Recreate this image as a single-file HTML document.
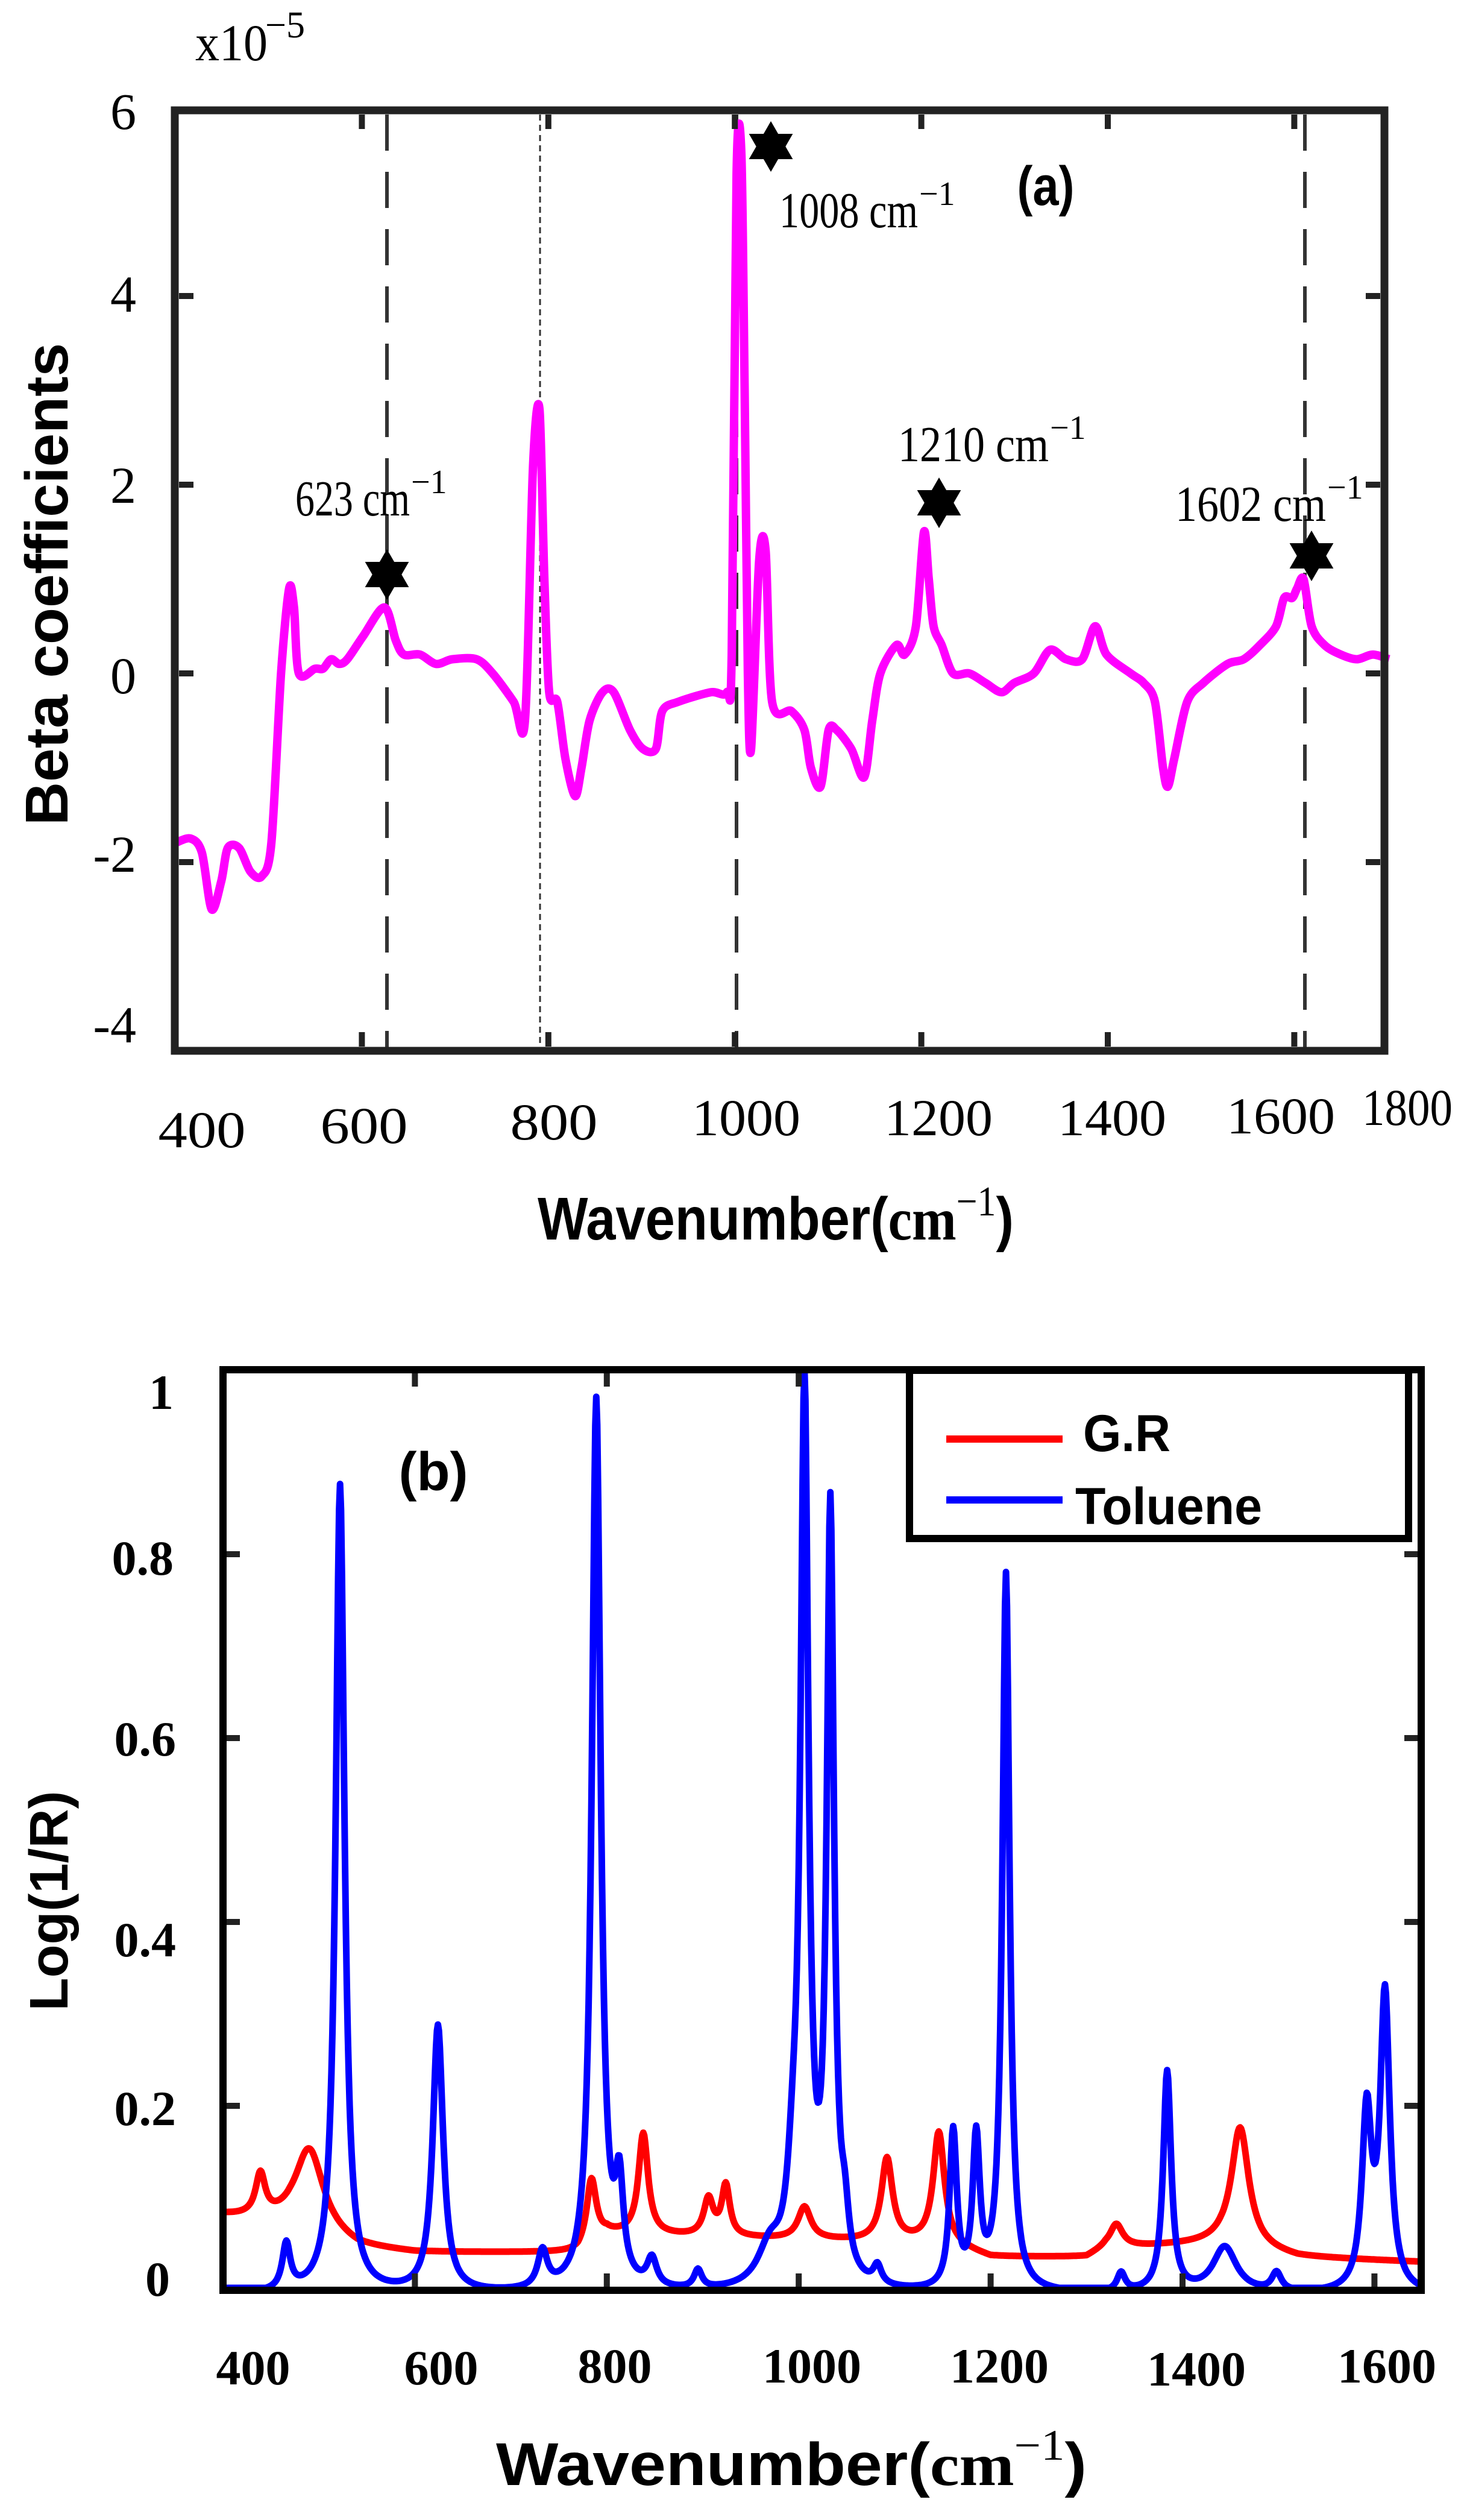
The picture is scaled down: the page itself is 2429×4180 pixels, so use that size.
<!DOCTYPE html>
<html><head><meta charset="utf-8"><style>
html,body{margin:0;padding:0;background:#fff;}
svg{display:block;}
.tk{font-family:"Liberation Serif",serif;}
.sans{font-family:"Liberation Sans",sans-serif;font-weight:bold;}
</style></head><body>
<svg id="s" width="2429" height="4180" viewBox="0 0 2429 4180" xmlns="http://www.w3.org/2000/svg">
<rect width="2429" height="4180" fill="#fff"/>
<g stroke="#333" fill="none">
<line x1="642" y1="190" x2="642" y2="1740" stroke-width="6" stroke-dasharray="60,35"/>
<line x1="896" y1="190" x2="896" y2="1740" stroke-width="3" stroke-dasharray="10,7"/>
<line x1="1222" y1="190" x2="1222" y2="1740" stroke-width="6" stroke-dasharray="60,35"/>
<line x1="2165" y1="190" x2="2165" y2="1740" stroke-width="6" stroke-dasharray="60,35"/>
</g>
<path id="mag" fill="none" stroke="#ff00ff" stroke-width="14" stroke-linejoin="round"/>
<rect x="290" y="183" width="2007" height="1560" fill="none" stroke="#222" stroke-width="13"/>
<g id="ticksA" stroke="#222" stroke-width="10"></g>
<g class="tk" font-size="86" text-anchor="end">
<text x="226" y="214" textLength="40">6</text>
<text x="226" y="517" textLength="40">4</text>
<text x="226" y="834" textLength="40">2</text>
<text x="226" y="1150" textLength="40">0</text>
<text x="226" y="1446">-2</text>
<text x="226" y="1729">-4</text>
</g>
<g class="tk" font-size="86" text-anchor="middle">
<text x="335" y="1903" textLength="145" lengthAdjust="spacingAndGlyphs">400</text>
<text x="604" y="1896" textLength="145" lengthAdjust="spacingAndGlyphs">600</text>
<text x="919" y="1890" textLength="145" lengthAdjust="spacingAndGlyphs">800</text>
<text x="1238" y="1883" textLength="180" lengthAdjust="spacingAndGlyphs">1000</text>
<text x="1557" y="1883" textLength="180" lengthAdjust="spacingAndGlyphs">1200</text>
<text x="1845" y="1883" textLength="180" lengthAdjust="spacingAndGlyphs">1400</text>
<text x="2125" y="1880" textLength="180" lengthAdjust="spacingAndGlyphs">1600</text>
<text x="2335" y="1866" textLength="150" lengthAdjust="spacingAndGlyphs">1800</text>
</g>
<text class="tk" x="324" y="100" font-size="86" textLength="120" lengthAdjust="spacingAndGlyphs">x10</text>
<text class="tk" x="440" y="62" font-size="62">−5</text>
<text class="sans" x="0" y="0" font-size="100" text-anchor="middle" transform="translate(112,969) rotate(-90)">Beta coefficients</text>
<text class="sans" x="1287" y="2056" font-size="100" text-anchor="middle" textLength="790" lengthAdjust="spacingAndGlyphs"><tspan>Wavenumber(</tspan><tspan font-family="Liberation Serif">cm</tspan><tspan font-family="Liberation Serif" font-weight="normal" font-size="70" dy="-40">−1</tspan><tspan dy="40">)</tspan></text>
<g class="tk" font-size="84">
<text x="490" y="855" textLength="190" lengthAdjust="spacingAndGlyphs">623 cm</text><text x="682" y="818" font-size="56">−1</text>
<text x="1293" y="377" textLength="230" lengthAdjust="spacingAndGlyphs">1008 cm</text><text x="1525" y="340" font-size="56">−1</text>
<text x="1490" y="765" textLength="250" lengthAdjust="spacingAndGlyphs">1210 cm</text><text x="1742" y="728" font-size="56">−1</text>
<text x="1950" y="864" textLength="250" lengthAdjust="spacingAndGlyphs">1602 cm</text><text x="2202" y="827" font-size="56">−1</text>
</g>
<text class="sans" x="1735" y="340" font-size="92" text-anchor="middle" textLength="95" lengthAdjust="spacingAndGlyphs">(a)</text>
<g id="stars" fill="#000"></g>

<path id="red" fill="none" stroke="#ff0000" stroke-width="11" stroke-linejoin="round"/>
<path id="blue" fill="none" stroke="#0000ff" stroke-width="11" stroke-linejoin="round"/>
<rect x="370" y="2272" width="1988" height="1527" fill="none" stroke="#000" stroke-width="12"/>
<g id="ticksB" stroke="#222" stroke-width="10"></g>
<rect x="1509" y="2273" width="828" height="279" fill="#fff" stroke="#000" stroke-width="12"/>
<line x1="1570" y1="2387" x2="1763" y2="2387" stroke="#ff0000" stroke-width="12"/>
<line x1="1570" y1="2488" x2="1763" y2="2488" stroke="#0000ff" stroke-width="12"/>
<text class="sans" x="1797" y="2407" font-size="86" textLength="145" lengthAdjust="spacingAndGlyphs">G.R</text>
<text class="sans" x="1784" y="2528" font-size="86" textLength="310" lengthAdjust="spacingAndGlyphs">Toluene</text>
<text class="sans" x="719" y="2472" font-size="90" text-anchor="middle" textLength="115" lengthAdjust="spacingAndGlyphs">(b)</text>
<g class="tk" font-size="82" font-weight="bold" text-anchor="end">
<text x="288" y="2337">1</text>
<text x="288" y="2612">0.8</text>
<text x="292" y="2912">0.6</text>
<text x="292" y="3245">0.4</text>
<text x="292" y="3525">0.2</text>
<text x="282" y="3808">0</text>
</g>
<g class="tk" font-size="82" font-weight="bold" text-anchor="middle">
<text x="420" y="3955">400</text>
<text x="732" y="3955">600</text>
<text x="1020" y="3952">800</text>
<text x="1347" y="3952">1000</text>
<text x="1658" y="3952">1200</text>
<text x="1985" y="3957">1400</text>
<text x="2301" y="3952">1600</text>
</g>
<text class="sans" x="0" y="0" font-size="90" text-anchor="middle" transform="translate(112,3153) rotate(-90)">Log(1/R)</text>
<text class="sans" x="1313" y="4122" font-size="100" text-anchor="middle" textLength="980" lengthAdjust="spacingAndGlyphs"><tspan>Wavenumber(</tspan><tspan font-family="Liberation Serif">cm</tspan><tspan font-family="Liberation Serif" font-weight="normal" font-size="72" dy="-42">−1</tspan><tspan dy="42">)</tspan></text>
</svg>
<script>
(function(){
var NS="http://www.w3.org/2000/svg";
function el(p,n,a){var e=document.createElementNS(NS,n);for(var k in a)e.setAttribute(k,a[k]);p.appendChild(e);return e;}
var A=[[108,-1.8],[118,-1.75],[125,-1.9],[131,-2.5],[137,-2.2],[141,-1.85],[148,-1.85],[155,-2.1],[162,-2.15],[168,-1.8],[174,0],[179,0.9],[182,0.7],[185,0],[195,0.05],[200,0.05],[205,0.15],[210,0.1],[215,0.15],[225,0.4],[238,0.7],[245,0.35],[250,0.2],[260,0.2],[270,0.1],[280,0.15],[295,0.15],[305,0.0],[318,-0.3],[325,-0.5],[330,2.2],[334,2.8],[337,1.0],[340,-0.2],[345,-0.3],[350,-0.9],[356,-1.3],[360,-1.0],[365,-0.5],[373,-0.2],[380,-0.2],[390,-0.6],[398,-0.8],[406,-0.8],[410,-0.4],[420,-0.3],[440,-0.2],[450,-0.2],[453,0.2],[456,5.3],[459,5.5],[461,3.0],[463,0.0],[465,-0.8],[470,1.2],[474,1.3],[478,-0.3],[490,-0.4],[498,-0.6],[502,-1.0],[508,-1.2],[513,-0.6],[518,-0.6],[527,-0.8],[535,-1.1],[540,-0.5],[545,0.0],[555,0.3],[560,0.2],[567,0.5],[572,1.5],[575,1.0],[578,0.5],[583,0.3],[590,0.0],[600,0.0],[610,-0.1],[620,-0.2],[628,-0.1],[640,0.0],[650,0.25],[660,0.15],[670,0.15],[678,0.5],[685,0.2],[700,0.0],[708,-0.1],[715,-0.3],[720,-1.0],[723,-1.2],[727,-0.9],[735,-0.3],[745,-0.1],[760,0.1],[770,0.15],[780,0.3],[790,0.5],[795,0.8],[800,0.8],[803,0.9],[807,1.0],[812,0.5],[820,0.3],[830,0.2],[840,0.15],[850,0.2],[860,0.15]];
var P=A.map(function(p){return [Math.max(290,p[0]*2.68),1117-p[1]*156.5];});
var d="M"+P[0][0]+","+P[0][1];
for(var i=0;i<P.length-1;i++){var p0=P[Math.max(0,i-1)],p1=P[i],p2=P[i+1],p3=P[Math.min(P.length-1,i+2)];var t=0.15;
d+="C"+(p1[0]+(p2[0]-p0[0])*t).toFixed(1)+","+(p1[1]+(p2[1]-p0[1])*t).toFixed(1)+" "+(p2[0]-(p3[0]-p1[0])*t).toFixed(1)+","+(p2[1]-(p3[1]-p1[1])*t).toFixed(1)+" "+p2[0].toFixed(1)+","+p2[1].toFixed(1);}
document.getElementById("mag").setAttribute("d",d);
var ta=document.getElementById("ticksA");
[600,800,1000,1200,1400,1600].forEach(function(w){var x=291+(w-400)*1.547;el(ta,"line",{x1:x,y1:190,x2:x,y2:214});el(ta,"line",{x1:x,y1:1736,x2:x,y2:1712});});
[-2,0,2,4].forEach(function(v){var y=1117-v*156.5;el(ta,"line",{x1:297,y1:y,x2:321,y2:y});el(ta,"line",{x1:2290,y1:y,x2:2266,y2:y});});
function star(cx,cy,r){var s=document.getElementById("stars");var p1="",p2="";for(var i=0;i<3;i++){var a=-Math.PI/2+i*2*Math.PI/3;p1+=(cx+r*Math.cos(a)).toFixed(1)+","+(cy+r*Math.sin(a)).toFixed(1)+" ";var b=Math.PI/2+i*2*Math.PI/3;p2+=(cx+r*Math.cos(b)).toFixed(1)+","+(cy+r*Math.sin(b)).toFixed(1)+" ";}el(s,"polygon",{points:p1});el(s,"polygon",{points:p2});}
star(642,953,42);star(1279,243,42);star(1558,834,42);star(2176,922,42);
function X(w){return 370+(w-400)*1.592;}
function Y(v){return 3798-v*1525;}
function L(w,c,h,g){return h/(1+Math.pow((w-c)/g,2));}
var BP=[[466,0.05,5],[522,0.88,5.5],[624,0.29,6.5],[733,0.04,6],[789,0.97,5.5],[813,0.1,5],[847,0.03,6],[895,0.02,5],[970,0.04,15],[994,0.08,7],[1006,0.96,5],[1033,0.83,4.5],[1048,0.05,5],[1082,0.02,5],[1161,0.17,4.5],[1185,0.16,4.5],[1216,0.78,4.5],[1336,0.02,5],[1384,0.24,5],[1444,0.05,15],[1498,0.02,6],[1592,0.19,6],[1611,0.32,6]];
var RP=[[439,0.045,6],[490,0.09,18],[784,0.07,6],[838,0.11,6],[906,0.04,6],[924,0.055,5],[1006,0.035,8],[1092,0.09,7],[1146,0.12,7],[1331,0.025,8],[1460,0.13,11]];
function rbase(w){var pts=[[400,0.08],[470,0.07],[540,0.045],[600,0.04],[770,0.04],[800,0.06],[1150,0.05],[1200,0.035],[1300,0.035],[1320,0.045],[1440,0.05],[1520,0.035],[1650,0.03]];for(var i=0;i<pts.length-1;i++){if(w<=pts[i+1][0]){var t=(w-pts[i][0])/(pts[i+1][0]-pts[i][0]);return pts[i][1]+t*(pts[i+1][1]-pts[i][1]);}}return 0.03;}
var db="",dr="";
for(var w=400;w<=1649;w+=1){var b=-0.006;BP.forEach(function(p){b+=L(w,p[0],p[1],p[2]);});if(b>1.0)b=1.0;
var r=rbase(w);RP.forEach(function(p){r+=L(w,p[0],p[1],p[2]);});
db+=(w==400?"M":"L")+X(w).toFixed(1)+","+Math.min(3795,Y(b)).toFixed(1);
dr+=(w==400?"M":"L")+X(w).toFixed(1)+","+Y(r).toFixed(1);}
document.getElementById("blue").setAttribute("d",db);
document.getElementById("red").setAttribute("d",dr);
var tb=document.getElementById("ticksB");
[600,800,1000,1200,1400,1600].forEach(function(w){var x=X(w);el(tb,"line",{x1:x,y1:2278,x2:x,y2:2300});el(tb,"line",{x1:x,y1:3793,x2:x,y2:3771});});
[0.2,0.4,0.6,0.8].forEach(function(v){var y=Y(v);el(tb,"line",{x1:376,y1:y,x2:398,y2:y});el(tb,"line",{x1:2352,y1:y,x2:2330,y2:y});});
})();
</script>
</body></html>
